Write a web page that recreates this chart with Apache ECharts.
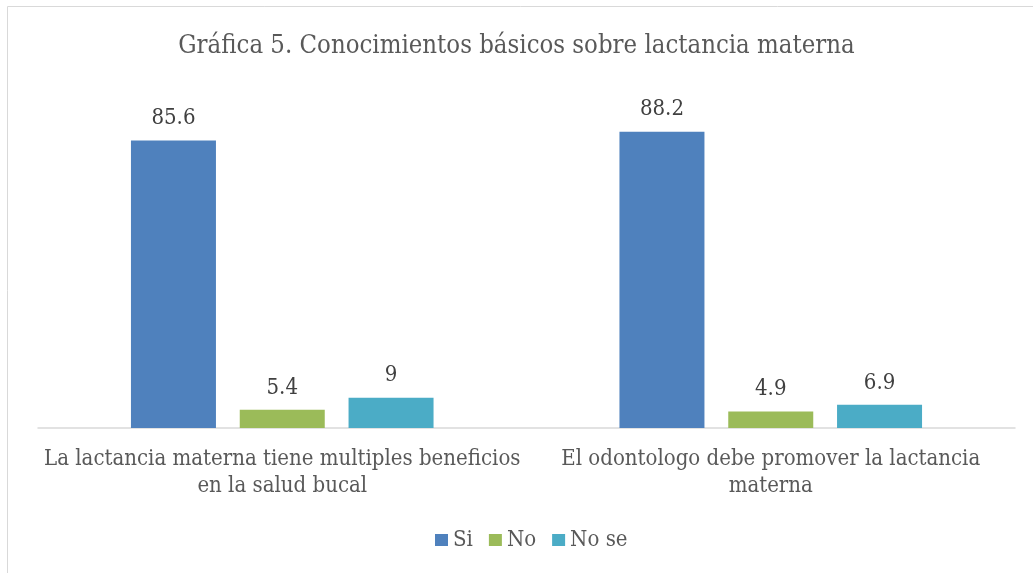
<!DOCTYPE html>
<html>
<head>
<meta charset="utf-8">
<script src="https://cdn.jsdelivr.net/npm/echarts@6/dist/echarts.min.js"></script>
<style>
    html, body { margin: 0; padding: 0; background: #fff; }
    #chart { width: 1033px; height: 573px; }
</style>
</head>
<body>
<div id="chart"></div>
<script>
    var categories = ['La lactancia materna tiene multiples beneficios\nen la salud bucal', 'El odontologo debe promover la lactancia\nmaterna'];
    var si_values = [85.6, 88.2];
    var no_values = [5.4, 4.9];
    var nose_values = [9, 6.9];

    var font = '"DejaVu Serif Condensed", "DejaVu Serif", serif';

    var option = {
        animation: false,
        title: {
            text: 'Gráfica 5. Conocimientos básicos sobre lactancia materna',
            left: 'center',
            top: 28,
            textStyle: { fontFamily: font, fontSize: 25.5, fontWeight: 'normal', color: '#595959' }
        },
        graphic: [{
            type: 'rect',
            shape: { x: 7.5, y: 6.5, width: 1100, height: 700 },
            style: { fill: 'none', stroke: '#d9d9d9', lineWidth: 1 }
        }],
        legend: {
            top: 524,
            left: 430,
            itemWidth: 13,
            itemHeight: 12,
            itemGap: 16,
            icon: 'rect',
            textStyle: { fontFamily: font, fontSize: 22, color: '#595959' },
            data: ['Si', 'No', 'No se']
        },
        grid: { left: 38, right: 18, top: 92, bottom: 145 },
        xAxis: {
            type: 'category',
            data: categories,
            axisLine: { lineStyle: { color: '#d9d9d9', width: 1.5 } },
            axisTick: { show: false },
            axisLabel: { interval: 0, fontFamily: font, fontSize: 22, color: '#595959', lineHeight: 27, margin: 18 }
        },
        yAxis: {
            type: 'value',
            min: 0,
            max: 100,
            show: false
        },
        series: [
            { name: 'Si', type: 'bar', data: si_values, barWidth: 85, barGap: '28%', itemStyle: { color: '#4f81bd' } },
            { name: 'No', type: 'bar', data: no_values, barWidth: 85, itemStyle: { color: '#9bbb59' } },
            { name: 'No se', type: 'bar', data: nose_values, barWidth: 85, itemStyle: { color: '#4bacc6' } }
        ]
    };
    option.series.forEach(function (s) {
        s.label = { show: true, position: 'top', distance: 11, fontFamily: font, fontSize: 22, color: '#404040' };
    });

    var chart = echarts.init(document.getElementById('chart'));
    chart.setOption(option);
</script>
</body>
</html>
